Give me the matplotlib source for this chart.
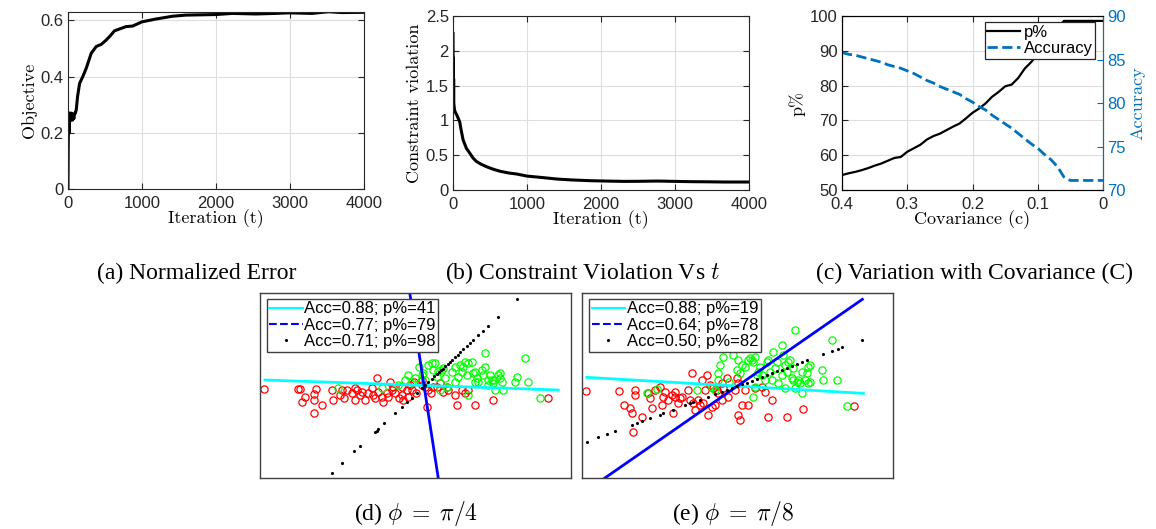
import matplotlib
matplotlib.use('Agg')
import matplotlib.pyplot as plt
from matplotlib.lines import Line2D

plt.rcParams['font.family'] = 'Liberation Sans'
plt.rcParams['mathtext.fontset'] = 'cm'

# (a) objective vs iteration
obj_t = [0, 3, 6, 10, 15, 20, 25, 30, 40, 50, 60, 70, 80, 90, 100, 112, 130, 157, 200, 247,
         314, 381, 450, 516, 570, 628, 700, 785, 874, 1000, 1188, 1413, 1592, 1800, 2000, 2220,
         2534, 2800, 2982, 3296, 3520, 3700, 4000]
obj_val = [0.0, 0.14, 0.22, 0.27, 0.20, 0.27, 0.24, 0.27, 0.25, 0.27, 0.245, 0.26, 0.25, 0.27, 0.27,
           0.282, 0.33, 0.376, 0.40, 0.43, 0.483, 0.507, 0.515, 0.53, 0.545, 0.563, 0.57, 0.578, 0.58,
           0.595, 0.605, 0.615, 0.619, 0.62, 0.621, 0.625, 0.623, 0.625, 0.627, 0.625, 0.631, 0.628, 0.629]

# (b) constraint violation vs iteration
cv_t = [0, 2, 4, 6, 8, 10, 15, 20, 30, 50, 70, 90, 110, 136, 180, 226, 270, 317, 380, 452, 540,
        633, 750, 860, 1000, 1200, 1400, 1600, 1855, 2100, 2308, 2500, 2760, 3000, 3213, 3450, 3665, 4000]
cv_val = [2.25, 1.5, 1.9, 1.3, 1.6, 1.25, 1.2, 1.15, 1.12, 1.08, 1.03, 0.98, 0.86, 0.72, 0.6, 0.53,
          0.46, 0.41, 0.37, 0.335, 0.30, 0.27, 0.245, 0.23, 0.2, 0.18, 0.158, 0.145, 0.134, 0.128,
          0.124, 0.125, 0.129, 0.124, 0.12, 0.118, 0.115, 0.115]

# (c) p% and accuracy vs covariance
cov = [0.40, 0.39, 0.38, 0.37, 0.36, 0.35, 0.34, 0.33, 0.32, 0.31, 0.30, 0.29, 0.28, 0.27, 0.26,
       0.25, 0.24, 0.23, 0.22, 0.21, 0.20, 0.19, 0.18, 0.17, 0.16, 0.15, 0.14, 0.13, 0.12, 0.11,
       0.10, 0.09, 0.08, 0.07, 0.06, 0.05, 0.04, 0.03, 0.02, 0.01, 0.00]
p_pct = [54.3, 54.8, 55.2, 55.7, 56.3, 57.0, 57.6, 58.4, 59.2, 59.5, 61.0, 62.0, 63.0, 64.5, 65.5,
         66.2, 67.2, 68.2, 69.1, 70.6, 72.2, 73.4, 74.9, 76.8, 78.2, 79.8, 80.3, 82.2, 84.9, 86.8,
         89.0, 91.5, 94.0, 96.5, 98.6, 98.6, 98.6, 98.6, 98.6, 98.6, 98.6]
accuracy = [85.8, 85.6, 85.5, 85.3, 85.1, 84.9, 84.7, 84.4, 84.2, 84.0, 83.7, 83.4, 83.0, 82.6, 82.3,
            81.9, 81.6, 81.3, 81.0, 80.5, 80.1, 79.6, 79.2, 78.6, 78.1, 77.6, 77.1, 76.5, 75.9, 75.3,
            74.8, 74.1, 73.5, 72.7, 71.5, 71.1, 71.1, 71.1, 71.1, 71.1, 71.1]

# (d) phi = pi/4 scatter
d_red_x = [0.28, 1.35, 1.40, 1.50, 1.78, 1.83, 1.76, 1.76, 2.02, 2.30, 2.35, 2.55, 2.68, 2.75, 2.90,
           3.00, 3.05, 3.15, 3.20, 3.30, 3.40, 3.50, 3.55, 3.60, 3.65, 3.70, 3.80, 3.85, 3.95, 4.00,
           4.05, 4.10, 4.15, 4.20, 4.32, 4.40, 4.40, 4.45, 4.55, 4.60, 4.65, 4.70, 4.78, 4.83, 5.00,
           5.10, 5.15, 5.20, 5.28, 5.35, 5.45, 5.55, 5.65, 5.75, 5.80, 6.00, 6.05, 6.20, 6.30, 6.40,
           6.60, 7.15, 8.80, 5.00, 2.60, 3.00, 1.30]
d_red_y = [2.67, 2.66, 2.27, 2.42, 2.52, 2.67, 2.34, 1.94, 2.19, 2.64, 2.34, 2.49, 2.41, 2.64, 2.54,
           2.34, 2.64, 2.49, 2.59, 2.34, 2.54, 2.69, 2.49, 2.39, 2.99, 2.59, 2.44, 2.29, 2.54, 2.44,
           2.89, 2.64, 2.74, 2.54, 2.39, 2.49, 2.74, 2.34, 2.64, 2.44, 2.79, 2.64, 2.89, 2.54, 2.79,
           2.74, 2.14, 2.64, 2.54, 2.74, 2.74, 2.84, 2.59, 2.74, 2.64, 2.49, 2.19, 2.64, 2.54, 2.64,
           2.19, 2.34, 2.41, 2.94, 2.64, 2.69, 2.67]
d_green_x = [2.50, 3.80, 4.30, 4.50, 4.60, 4.70, 4.80, 4.93, 5.05, 5.10, 5.20, 5.30, 5.40, 5.35, 5.50,
             5.60, 5.65, 5.45, 5.70, 5.75, 5.90, 6.00, 6.00, 6.10, 6.15, 6.20, 6.25, 6.30, 6.35, 6.40,
             6.50, 6.55, 6.60, 6.60, 6.65, 6.70, 6.80, 6.85, 6.90, 6.90, 7.00, 7.00, 7.05, 7.10, 7.15,
             7.18, 7.20, 7.30, 7.35, 7.35, 7.40, 7.45, 7.80, 7.85, 8.10, 8.20, 8.55, 5.55, 6.40, 5.00]
d_green_y = [2.69, 2.69, 2.79, 2.94, 3.09, 2.89, 2.99, 3.32, 3.14, 2.94, 3.39, 3.44, 3.46, 3.24, 3.21,
             3.24, 3.29, 3.04, 2.99, 2.74, 3.19, 3.34, 2.89, 3.04, 3.39, 3.19, 3.34, 3.49, 3.09, 3.44,
             3.49, 3.14, 3.19, 2.89, 2.99, 2.89, 3.24, 3.09, 3.34, 3.74, 2.94, 2.79, 3.09, 2.94, 2.84,
             2.94, 2.64, 3.09, 2.99, 3.14, 2.89, 2.64, 2.89, 3.04, 3.59, 2.89, 2.41, 2.64, 2.49, 3.09]
d_cyan_x = [0.30, 9.10]
d_cyan_y = [2.94, 2.64]
d_blue_x = [4.63, 5.50]
d_blue_y = [5.64, -0.01]
d_dot_x = [2.30, 2.62, 2.98, 3.15, 3.60, 3.65, 3.70, 3.88, 4.20, 4.40, 4.55, 4.70, 4.85, 5.00, 5.10,
           5.20, 5.30, 5.38, 5.45, 5.52, 5.58, 5.63, 5.70, 5.78, 5.85, 5.92, 6.00, 6.08, 6.15, 6.25,
           6.35, 6.45, 6.55, 6.70, 6.85, 7.00, 7.30, 7.85]
d_dot_ends = ([2.30, 7.85], [0.16, 5.36])
d_labels = ['Acc=0.88; p%=41', 'Acc=0.77; p%=79', 'Acc=0.71; p%=98']

# (e) phi = pi/8 scatter
e_red_x = [0.33, 1.33, 1.48, 1.65, 1.70, 1.75, 1.80, 1.80, 2.00, 2.20, 2.25, 2.30, 2.40, 2.55, 2.62,
           2.65, 2.70, 2.80, 2.90, 2.95, 3.00, 3.00, 3.10, 3.15, 3.20, 3.40, 3.45, 3.50, 3.55, 3.60,
           3.70, 3.75, 3.80, 3.85, 3.90, 3.95, 4.00, 4.05, 4.10, 4.15, 4.20, 4.25, 4.30, 4.40, 4.40,
           4.45, 4.55, 4.60, 4.85, 4.90, 4.90, 4.95, 5.00, 5.10, 5.20, 5.40, 5.60, 5.70, 5.80, 5.90,
           6.35, 6.85, 8.38, 4.80]
e_red_y = [2.61, 2.61, 2.19, 2.09, 1.96, 1.39, 2.64, 2.49, 1.84, 2.54, 2.39, 2.09, 2.64, 2.74, 2.19,
           2.44, 2.59, 2.34, 2.49, 1.94, 2.44, 2.59, 2.24, 2.39, 2.44, 2.64, 2.34, 3.14, 2.24, 2.04,
           2.34, 2.19, 2.94, 2.24, 2.64, 3.09, 1.89, 2.79, 2.14, 2.69, 2.19, 2.64, 2.54, 2.84, 2.34,
           2.69, 2.99, 2.44, 2.99, 2.84, 1.89, 1.74, 2.19, 2.64, 2.19, 2.69, 2.74, 2.59, 1.84, 2.34,
           1.84, 2.06, 2.17, 2.64]
e_green_x = [2.15, 2.45, 3.65, 4.10, 4.20, 4.30, 4.30, 4.35, 4.45, 4.62, 4.75, 4.85, 4.90, 4.95, 5.00,
             5.10, 5.20, 5.25, 5.30, 5.35, 5.40, 5.45, 5.50, 5.40, 5.35, 5.55, 5.60, 5.70, 5.75, 5.80,
             5.85, 5.90, 5.95, 6.00, 6.05, 6.10, 6.20, 6.20, 6.25, 6.30, 6.30, 6.35, 6.40, 6.45, 6.50,
             6.55, 6.55, 6.60, 6.60, 6.65, 6.70, 6.75, 6.80, 6.80, 6.90, 6.95, 7.00, 7.00, 7.05, 7.05,
             7.40, 7.45, 7.70, 7.85, 8.15]
e_green_y = [2.54, 2.66, 2.64, 2.74, 2.64, 2.94, 3.14, 3.39, 3.64, 2.89, 3.69, 3.24, 3.54, 3.14, 3.39,
             3.34, 3.54, 3.59, 3.54, 3.49, 3.64, 3.09, 3.19, 2.74, 2.44, 3.34, 3.09, 2.94, 3.49, 3.54,
             3.19, 2.94, 3.79, 3.29, 3.49, 2.84, 3.09, 3.99, 3.69, 3.39, 2.69, 3.19, 3.49, 3.54, 2.99,
             3.29, 2.94, 4.44, 2.69, 2.89, 2.94, 2.84, 3.19, 2.54, 2.94, 3.14, 2.84, 3.34, 3.39, 2.89,
             3.24, 2.94, 4.14, 2.94, 2.16]
e_cyan_x = [0.35, 8.65]
e_cyan_y = [3.02, 2.54]
e_blue_x = [0.88, 8.62]
e_blue_y = [-0.01, 5.36]
e_dot_x = [0.35, 0.70, 0.97, 1.20, 1.70, 1.85, 2.00, 2.25, 2.55, 2.65, 2.95, 3.30, 3.45, 3.55, 3.75,
           4.00, 4.20, 4.40, 4.55, 4.70, 4.85, 5.00, 5.15, 5.30, 5.45, 5.60, 5.75, 5.90, 6.05, 6.20,
           6.35, 6.50, 6.65, 6.80, 6.95, 7.45, 7.70, 7.90, 8.00, 8.60]
e_dot_ends = ([0.35, 8.60], [1.09, 4.14])
e_labels = ['Acc=0.88; p%=19', 'Acc=0.64; p%=78', 'Acc=0.50; p%=82']

matlab_blue = '#0072BD'
frame_col = '#262626'
grid_col = '#dedede'
tick_size = 12
label_font = dict(fontfamily='cmr10', fontsize=13)
caption_font = dict(fontfamily='Liberation Serif', fontsize=17, ha='center', va='center')


def style_axes(ax):
    ax.grid(True, color=grid_col, linewidth=0.8)
    ax.set_axisbelow(True)
    ax.tick_params(direction='in', length=4, width=0.8, labelsize=tick_size, colors=frame_col,
                   top=True, right=True, pad=3)
    ax.tick_params(axis='x', pad=5)
    for s in ax.spines.values():
        s.set_color(frame_col)
        s.set_linewidth(0.8)


def points_on_line(xs, ends):
    # dots lie on the decision line through the two end points
    (x0, x1), (y0, y1) = ends
    return [y0 + (x - x0) * (y1 - y0) / (x1 - x0) for x in xs]


fig = plt.figure(figsize=(11.56, 5.29), dpi=100)

# (a)
ax_a = fig.add_axes([0.0588, 0.6427, 0.2561, 0.3346])
ax_a.plot(obj_t, obj_val, color='black', linewidth=2.2)
ax_a.set_xlim(0, 4000)
ax_a.set_ylim(0, 0.63)
ax_a.set_xticks([0, 1000, 2000, 3000, 4000])
ax_a.set_yticks([0, 0.2, 0.4, 0.6])
ax_a.set_yticklabels(['0', '0.2', '0.4', '0.6'])
style_axes(ax_a)
ax_a.set_xlabel('Iteration (t)', labelpad=-1, **label_font)
ax_a.set_ylabel('Objective', labelpad=3, **label_font)

# (b)
ax_b = fig.add_axes([0.3919, 0.6408, 0.2561, 0.3289])
ax_b.plot(cv_t, cv_val, color='black', linewidth=2.2)
ax_b.set_xlim(0, 4000)
ax_b.set_ylim(0, 2.5)
ax_b.set_xticks([0, 1000, 2000, 3000, 4000])
ax_b.set_yticks([0, 0.5, 1, 1.5, 2, 2.5])
ax_b.set_yticklabels(['0', '0.5', '1', '1.5', '2', '2.5'])
style_axes(ax_b)
ax_b.set_xlabel('Iteration (t)', labelpad=-1, **label_font)
ax_b.set_ylabel('Constraint violation', labelpad=3, **label_font)

# (c)
ax_c = fig.add_axes([0.7284, 0.6408, 0.2258, 0.3289])
line_p, = ax_c.plot(cov, p_pct, color='black', linewidth=1.6, label='p%')
ax_c.set_xlim(0.4, 0)
ax_c.set_ylim(50, 100)
ax_c.set_xticks([0.4, 0.3, 0.2, 0.1, 0])
ax_c.set_xticklabels(['0.4', '0.3', '0.2', '0.1', '0'])
ax_c.set_yticks([50, 60, 70, 80, 90, 100])
style_axes(ax_c)
ax_c.tick_params(right=False)
ax_c.set_xlabel('Covariance (c)', labelpad=-1, **label_font)
ax_c.set_ylabel('p%', labelpad=3, **label_font)
ax_c2 = ax_c.twinx()
line_acc, = ax_c2.plot(cov, accuracy, color=matlab_blue, linewidth=2, linestyle='--', label='Accuracy')
ax_c2.set_ylim(70, 90)
ax_c2.set_yticks([70, 75, 80, 85, 90])
ax_c2.tick_params(direction='in', length=4, width=0.8, labelsize=tick_size, colors=matlab_blue, pad=3)
ax_c2.spines['right'].set_color(matlab_blue)
ax_c2.set_ylabel('Accuracy', color=matlab_blue, labelpad=3, **label_font)
leg = ax_c2.legend(handles=[line_p, line_acc], loc='upper right', bbox_to_anchor=(0.97, 0.965),
                   borderaxespad=0, fontsize=12, handlelength=2.0, handletextpad=0.2,
                   labelspacing=0.1, borderpad=0.15, fancybox=False, framealpha=1)
leg.get_frame().set_edgecolor(frame_col)
leg.get_frame().set_linewidth(0.9)


def scatter_panel(rect, red_x, red_y, green_x, green_y, cyan_x, cyan_y, blue_x, blue_y,
                  dot_x, dot_ends, labels, xlim):
    ax = fig.add_axes(rect)
    ax.plot(red_x, red_y, 'o', markerfacecolor='none', markeredgecolor='red', markersize=5.2,
            markeredgewidth=0.9)
    ax.plot(green_x, green_y, 'o', markerfacecolor='none', markeredgecolor='#00ff00', markersize=5.2,
            markeredgewidth=0.9)
    ax.plot(cyan_x, cyan_y, color='cyan', linewidth=2)
    ax.plot(blue_x, blue_y, color='blue', linewidth=2)
    ax.plot(dot_x, points_on_line(dot_x, dot_ends), '.', color='black', markersize=2.5)
    ax.set_xlim(*xlim)
    ax.set_ylim(0, 5.55)
    ax.set_xticks([])
    ax.set_yticks([])
    for s in ax.spines.values():
        s.set_color('#404040')
        s.set_linewidth(1.0)
    handles = [Line2D([], [], color='cyan', linewidth=1.5),
               Line2D([], [], color='blue', linewidth=1.5, linestyle='--'),
               Line2D([], [], color='black', linestyle='none', marker='.', markersize=2.5)]
    lg = ax.legend(handles, labels, loc='upper left', bbox_to_anchor=(0.0225, 0.968),
                   borderaxespad=0, fontsize=12, handlelength=2.0, handletextpad=0.1,
                   labelspacing=0.08, borderpad=0.15, fancybox=False, framealpha=1)
    lg.get_frame().set_edgecolor('#404040')
    lg.get_frame().set_linewidth(1.0)
    return ax


scatter_panel([0.2249, 0.0964, 0.2690, 0.3497], d_red_x, d_red_y, d_green_x, d_green_y,
              d_cyan_x, d_cyan_y, d_blue_x, d_blue_y, d_dot_x, d_dot_ends, d_labels, (0.15, 9.48))
scatter_panel([0.5035, 0.0964, 0.2690, 0.3497], e_red_x, e_red_y, e_green_x, e_green_y,
              e_cyan_x, e_cyan_y, e_blue_x, e_blue_y, e_dot_x, e_dot_ends, e_labels, (0.21, 9.54))

# captions
fig.text(197 / 1156, 1 - 273 / 529, '(a) Normalized Error', **caption_font)
fig.text(582 / 1156, 1 - 273 / 529, '(b) Constraint Violation Vs $t$', **caption_font)
fig.text(975 / 1156, 1 - 273 / 529, '(c) Variation with Covariance (C)', **caption_font)
fig.text(416 / 1156, 1 - 513 / 529, r'(d) $\phi\;=\;\pi/4$', **caption_font)
fig.text(733 / 1156, 1 - 513 / 529, r'(e) $\phi\;=\;\pi/8$', **caption_font)

fig.savefig('out.png', dpi=100)
